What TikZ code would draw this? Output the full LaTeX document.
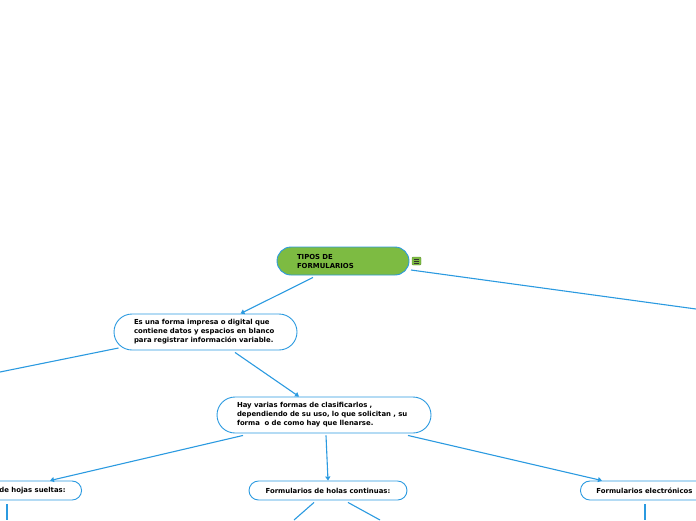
\documentclass[tikz,border=0pt]{standalone}
\usepackage{fontspec}
\setmainfont{DejaVu Sans}
\usetikzlibrary{arrows.meta}
\definecolor{lineblue}{HTML}{2B9AE0}
\definecolor{rootgreen}{HTML}{7DBB42}
\tikzset{
  topic/.style={draw=lineblue, line width=0.9pt, fill=white, rounded corners=9.5pt,
    minimum height=19pt, inner xsep=16pt, inner ysep=0pt,
    font=\fontsize{6.9}{9}\selectfont\bfseries},
  bigtopic/.style={draw=lineblue, line width=0.9pt, fill=white, rounded corners=18pt,
    minimum height=36pt, inner xsep=0pt, inner ysep=0pt, align=left,
    font=\fontsize{6.9}{9}\selectfont\bfseries},
  conn/.style={draw=lineblue, line width=1.1pt},
  arr/.style={conn, -{Triangle[length=4pt,width=5pt]}}
}
\begin{document}
\begin{tikzpicture}[x=1pt,y=-1pt]
\useasboundingbox (0,0) rectangle (696,520);
% root
\node[bigtopic, fill=rootgreen, rounded corners=14pt, minimum height=28pt, minimum width=132pt, text width=92pt] (root) at (343,261) {TIPOS DE\\FORMULARIOS};
\node[draw=rootgreen!80!black, fill=rootgreen, rounded corners=1pt, minimum width=9pt, minimum height=8pt, inner sep=0pt] (icon) at (416.5,261) {};
\draw[black!80, line width=0.6pt] ([xshift=-2.5pt,yshift=-2pt]icon.center) -- ([xshift=2.5pt,yshift=-2pt]icon.center)
  ([xshift=-2.5pt]icon.center) -- ([xshift=2.5pt]icon.center)
  ([xshift=-2.5pt,yshift=2pt]icon.center) -- ([xshift=2.5pt,yshift=2pt]icon.center);
% level 2
\node[bigtopic, minimum width=183pt, text width=143pt] (def) at (205.5,332) {Es una forma impresa o digital que\\contiene datos y espacios en blanco\\para registrar información variable.};
\node[bigtopic, minimum width=214pt, text width=174pt] (hay) at (324,415) {Hay varias formas de clasificarlos ,\\dependiendo de su uso, lo que solicitan , su\\forma ~o de como hay que llenarse.};
% level 3
\node[topic, anchor=east] (sueltas) at (82,490.5) {Formularios de hojas sueltas:};
\node[topic, minimum width=158pt] (continuas) at (328,490.5) {Formularios de holas continuas:};
\node[topic, anchor=west, minimum width=150pt, align=left, text width=118pt] (electro) at (580,490.5) {Formularios electrónicos};
% free ends
\coordinate (e1) at (696,309);
\coordinate (e2) at (0,372);
\coordinate (b1) at (7,520);
\coordinate (b2) at (294,520);
\coordinate (b3) at (380,520);
\coordinate (b4) at (645,520);
% connectors
\draw[conn] ([xshift=68pt,yshift=-9pt]root.center) -- (e1);
\draw[arr] ([xshift=-30pt,yshift=-2pt]root.south) -- ([xshift=35pt]def.north);
\draw[conn] ([xshift=-87pt,yshift=-16pt]def.center) -- (e2);
\draw[arr] ([xshift=29.5pt,yshift=-2pt]def.south) -- ([xshift=-25pt]hay.north);
\draw[arr] ([xshift=-81pt,yshift=-2pt]hay.south) -- ([xshift=-32pt]sueltas.north east);
\draw[arr] ([xshift=2pt,yshift=-2pt]hay.south) -- (continuas.north);
\draw[arr] ([xshift=84pt,yshift=-2pt]hay.south) -- ([xshift=22pt]electro.north west);
\draw[conn] ([xshift=-75pt,yshift=-4pt]sueltas.south east) -- (b1);
\draw[conn] ([xshift=-14pt,yshift=-2pt]continuas.south) -- (b2);
\draw[conn] ([xshift=20pt,yshift=-2pt]continuas.south) -- (b3);
\draw[conn] ([xshift=65pt,yshift=-4pt]electro.south west) -- (b4);
\end{tikzpicture}
\end{document}
